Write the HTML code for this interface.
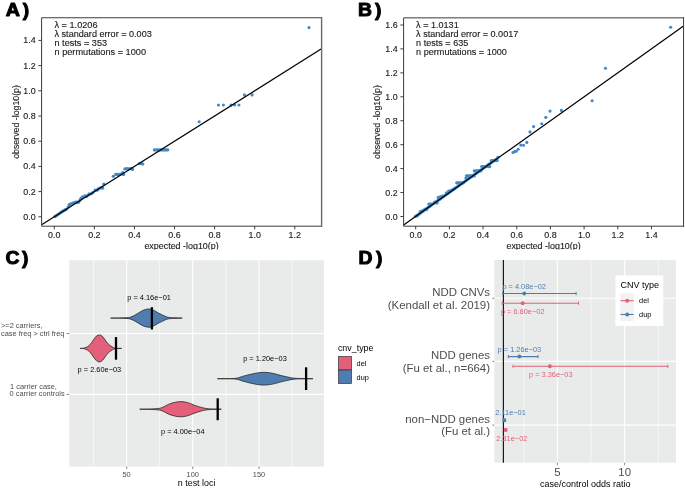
<!DOCTYPE html>
<html><head><meta charset="utf-8"><title>figure</title><style>
html,body{margin:0;padding:0;background:#fff;width:685px;height:488px;overflow:hidden}
svg{display:block;will-change:transform}
text{font-family:"Liberation Sans", sans-serif}
.m{stroke:#1a1a1a;stroke-width:0.12px}
</style></head><body>
<svg width="685" height="488" viewBox="0 0 685 488" font-family='"Liberation Sans", sans-serif'>
<rect width="685" height="488" fill="#fff"/>
<clipPath id="clip41"><rect x="41.6" y="17.75" width="279.9" height="208.45"/></clipPath>
<g clip-path="url(#clip41)" fill="#4088c8">
<circle cx="55.00" cy="216.50" r="1.67"/>
<circle cx="56.50" cy="215.60" r="1.67"/>
<circle cx="57.90" cy="214.60" r="1.67"/>
<circle cx="59.40" cy="213.60" r="1.67"/>
<circle cx="60.90" cy="212.40" r="1.67"/>
<circle cx="62.30" cy="211.40" r="1.67"/>
<circle cx="63.80" cy="210.60" r="1.67"/>
<circle cx="65.00" cy="209.90" r="1.67"/>
<circle cx="66.30" cy="209.30" r="1.67"/>
<circle cx="68.20" cy="207.10" r="1.67"/>
<circle cx="69.20" cy="204.70" r="1.67"/>
<circle cx="70.50" cy="204.20" r="1.67"/>
<circle cx="71.70" cy="203.70" r="1.67"/>
<circle cx="73.50" cy="203.00" r="1.67"/>
<circle cx="75.00" cy="202.50" r="1.67"/>
<circle cx="76.10" cy="202.10" r="1.67"/>
<circle cx="77.30" cy="202.20" r="1.67"/>
<circle cx="78.60" cy="202.20" r="1.67"/>
<circle cx="80.00" cy="200.10" r="1.67"/>
<circle cx="81.00" cy="198.50" r="1.67"/>
<circle cx="82.50" cy="197.00" r="1.67"/>
<circle cx="84.90" cy="195.90" r="1.67"/>
<circle cx="86.40" cy="196.40" r="1.67"/>
<circle cx="88.00" cy="195.10" r="1.67"/>
<circle cx="89.30" cy="194.00" r="1.67"/>
<circle cx="91.30" cy="193.80" r="1.67"/>
<circle cx="93.00" cy="192.40" r="1.67"/>
<circle cx="95.20" cy="190.10" r="1.67"/>
<circle cx="97.20" cy="190.20" r="1.67"/>
<circle cx="98.20" cy="188.90" r="1.67"/>
<circle cx="100.00" cy="188.10" r="1.67"/>
<circle cx="101.60" cy="187.50" r="1.67"/>
<circle cx="102.60" cy="188.00" r="1.67"/>
<circle cx="103.90" cy="184.20" r="1.67"/>
<circle cx="113.30" cy="176.30" r="1.67"/>
<circle cx="115.80" cy="174.40" r="1.67"/>
<circle cx="117.50" cy="174.40" r="1.67"/>
<circle cx="119.10" cy="174.40" r="1.67"/>
<circle cx="120.80" cy="174.10" r="1.67"/>
<circle cx="122.70" cy="172.70" r="1.67"/>
<circle cx="123.50" cy="174.40" r="1.67"/>
<circle cx="124.90" cy="168.90" r="1.67"/>
<circle cx="126.90" cy="168.60" r="1.67"/>
<circle cx="128.20" cy="168.90" r="1.67"/>
<circle cx="130.00" cy="168.60" r="1.67"/>
<circle cx="131.80" cy="168.60" r="1.67"/>
<circle cx="132.40" cy="169.40" r="1.67"/>
<circle cx="139.60" cy="163.60" r="1.67"/>
<circle cx="141.30" cy="163.30" r="1.67"/>
<circle cx="142.70" cy="164.10" r="1.67"/>
<circle cx="154.30" cy="149.90" r="1.55"/>
<circle cx="155.80" cy="149.90" r="1.55"/>
<circle cx="157.30" cy="149.90" r="1.55"/>
<circle cx="158.80" cy="149.90" r="1.55"/>
<circle cx="160.30" cy="149.90" r="1.55"/>
<circle cx="161.80" cy="149.90" r="1.55"/>
<circle cx="163.30" cy="149.90" r="1.55"/>
<circle cx="164.80" cy="149.90" r="1.55"/>
<circle cx="166.30" cy="149.90" r="1.55"/>
<circle cx="167.80" cy="149.90" r="1.55"/>
<circle cx="199.20" cy="121.80" r="1.55"/>
<circle cx="218.50" cy="105.00" r="1.55"/>
<circle cx="223.40" cy="105.00" r="1.55"/>
<circle cx="231.10" cy="105.00" r="1.55"/>
<circle cx="234.60" cy="105.00" r="1.55"/>
<circle cx="238.90" cy="105.00" r="1.55"/>
<circle cx="244.40" cy="94.90" r="1.55"/>
<circle cx="252.10" cy="94.90" r="1.55"/>
<circle cx="309.00" cy="27.60" r="1.55"/>
</g>
<g clip-path="url(#clip41)">
<line x1="41.60" y1="224.79" x2="321.50" y2="48.80" stroke="#000" stroke-width="1.25" />
</g>
<path d="M321.50,17.75 H41.60 V226.20 H321.50" fill="none" stroke="#3c3c3c" stroke-width="1" stroke-linecap="square"/>
<line x1="321.60" y1="17.25" x2="321.60" y2="226.70" stroke="#6a6a6a" stroke-width="1.4"/>
<line x1="54.30" y1="226.20" x2="54.30" y2="229.40" stroke="#3c3c3c" stroke-width="1.0" />
<text x="54.30" y="238.20" font-size="8.6" fill="#1a1a1a" text-anchor="middle" textLength="12.40" lengthAdjust="spacingAndGlyphs" class="m">0.0</text>
<line x1="94.38" y1="226.20" x2="94.38" y2="229.40" stroke="#3c3c3c" stroke-width="1.0" />
<text x="94.38" y="238.20" font-size="8.6" fill="#1a1a1a" text-anchor="middle" textLength="12.40" lengthAdjust="spacingAndGlyphs" class="m">0.2</text>
<line x1="134.46" y1="226.20" x2="134.46" y2="229.40" stroke="#3c3c3c" stroke-width="1.0" />
<text x="134.46" y="238.20" font-size="8.6" fill="#1a1a1a" text-anchor="middle" textLength="12.40" lengthAdjust="spacingAndGlyphs" class="m">0.4</text>
<line x1="174.54" y1="226.20" x2="174.54" y2="229.40" stroke="#3c3c3c" stroke-width="1.0" />
<text x="174.54" y="238.20" font-size="8.6" fill="#1a1a1a" text-anchor="middle" textLength="12.40" lengthAdjust="spacingAndGlyphs" class="m">0.6</text>
<line x1="214.62" y1="226.20" x2="214.62" y2="229.40" stroke="#3c3c3c" stroke-width="1.0" />
<text x="214.62" y="238.20" font-size="8.6" fill="#1a1a1a" text-anchor="middle" textLength="12.40" lengthAdjust="spacingAndGlyphs" class="m">0.8</text>
<line x1="254.70" y1="226.20" x2="254.70" y2="229.40" stroke="#3c3c3c" stroke-width="1.0" />
<text x="254.70" y="238.20" font-size="8.6" fill="#1a1a1a" text-anchor="middle" textLength="12.40" lengthAdjust="spacingAndGlyphs" class="m">1.0</text>
<line x1="294.78" y1="226.20" x2="294.78" y2="229.40" stroke="#3c3c3c" stroke-width="1.0" />
<text x="294.78" y="238.20" font-size="8.6" fill="#1a1a1a" text-anchor="middle" textLength="12.40" lengthAdjust="spacingAndGlyphs" class="m">1.2</text>
<line x1="38.40" y1="216.80" x2="41.60" y2="216.80" stroke="#3c3c3c" stroke-width="1.0" />
<text x="35.70" y="219.80" font-size="8.6" fill="#1a1a1a" text-anchor="end" textLength="12.40" lengthAdjust="spacingAndGlyphs" class="m">0.0</text>
<line x1="38.40" y1="191.60" x2="41.60" y2="191.60" stroke="#3c3c3c" stroke-width="1.0" />
<text x="35.70" y="194.60" font-size="8.6" fill="#1a1a1a" text-anchor="end" textLength="12.40" lengthAdjust="spacingAndGlyphs" class="m">0.2</text>
<line x1="38.40" y1="166.40" x2="41.60" y2="166.40" stroke="#3c3c3c" stroke-width="1.0" />
<text x="35.70" y="169.40" font-size="8.6" fill="#1a1a1a" text-anchor="end" textLength="12.40" lengthAdjust="spacingAndGlyphs" class="m">0.4</text>
<line x1="38.40" y1="141.20" x2="41.60" y2="141.20" stroke="#3c3c3c" stroke-width="1.0" />
<text x="35.70" y="144.20" font-size="8.6" fill="#1a1a1a" text-anchor="end" textLength="12.40" lengthAdjust="spacingAndGlyphs" class="m">0.6</text>
<line x1="38.40" y1="116.00" x2="41.60" y2="116.00" stroke="#3c3c3c" stroke-width="1.0" />
<text x="35.70" y="119.00" font-size="8.6" fill="#1a1a1a" text-anchor="end" textLength="12.40" lengthAdjust="spacingAndGlyphs" class="m">0.8</text>
<line x1="38.40" y1="90.80" x2="41.60" y2="90.80" stroke="#3c3c3c" stroke-width="1.0" />
<text x="35.70" y="93.80" font-size="8.6" fill="#1a1a1a" text-anchor="end" textLength="12.40" lengthAdjust="spacingAndGlyphs" class="m">1.0</text>
<line x1="38.40" y1="65.60" x2="41.60" y2="65.60" stroke="#3c3c3c" stroke-width="1.0" />
<text x="35.70" y="68.60" font-size="8.6" fill="#1a1a1a" text-anchor="end" textLength="12.40" lengthAdjust="spacingAndGlyphs" class="m">1.2</text>
<line x1="38.40" y1="40.40" x2="41.60" y2="40.40" stroke="#3c3c3c" stroke-width="1.0" />
<text x="35.70" y="43.40" font-size="8.6" fill="#1a1a1a" text-anchor="end" textLength="12.40" lengthAdjust="spacingAndGlyphs" class="m">1.4</text>
<text x="54.50" y="27.60" font-size="8.4" fill="#1a1a1a" textLength="43.00" lengthAdjust="spacingAndGlyphs" class="m">λ = 1.0206</text>
<text x="54.50" y="36.90" font-size="8.4" fill="#1a1a1a" textLength="97.30" lengthAdjust="spacingAndGlyphs" class="m">λ standard error = 0.003</text>
<text x="54.50" y="46.20" font-size="8.4" fill="#1a1a1a" textLength="52.60" lengthAdjust="spacingAndGlyphs" class="m">n tests = 353</text>
<text x="54.50" y="55.40" font-size="8.4" fill="#1a1a1a" textLength="91.50" lengthAdjust="spacingAndGlyphs" class="m">n permutations = 1000</text>
<text x="181.55" y="248.90" font-size="8.6" fill="#1a1a1a" text-anchor="middle" textLength="74.30" lengthAdjust="spacingAndGlyphs" class="m">expected -log10(p)</text>
<text class="m" x="0" y="0" font-size="8.4" fill="#1a1a1a" text-anchor="middle" textLength="73.8" lengthAdjust="spacingAndGlyphs" transform="translate(19.30,121.97) rotate(-90)">observed -log10(p)</text>
<clipPath id="clip403"><rect x="403.6" y="17.85" width="279.94999999999993" height="208.35"/></clipPath>
<g clip-path="url(#clip403)" fill="#4088c8">
<circle cx="415.50" cy="216.44" r="1.67"/>
<circle cx="417.10" cy="215.30" r="1.67"/>
<circle cx="418.70" cy="214.17" r="1.67"/>
<circle cx="420.30" cy="213.03" r="1.67"/>
<circle cx="421.90" cy="211.89" r="1.67"/>
<circle cx="423.50" cy="210.76" r="1.67"/>
<circle cx="425.10" cy="209.62" r="1.67"/>
<circle cx="426.70" cy="208.48" r="1.67"/>
<circle cx="428.30" cy="207.34" r="1.67"/>
<circle cx="429.90" cy="206.21" r="1.67"/>
<circle cx="431.50" cy="205.07" r="1.67"/>
<circle cx="433.10" cy="203.93" r="1.67"/>
<circle cx="434.70" cy="202.79" r="1.67"/>
<circle cx="436.30" cy="201.66" r="1.67"/>
<circle cx="437.90" cy="200.52" r="1.67"/>
<circle cx="439.50" cy="199.38" r="1.67"/>
<circle cx="441.10" cy="198.25" r="1.67"/>
<circle cx="442.70" cy="197.11" r="1.67"/>
<circle cx="444.30" cy="195.97" r="1.67"/>
<circle cx="445.90" cy="194.83" r="1.67"/>
<circle cx="447.50" cy="193.70" r="1.67"/>
<circle cx="449.10" cy="192.56" r="1.67"/>
<circle cx="450.70" cy="191.42" r="1.67"/>
<circle cx="452.30" cy="190.28" r="1.67"/>
<circle cx="453.90" cy="189.15" r="1.67"/>
<circle cx="455.50" cy="188.01" r="1.67"/>
<circle cx="457.10" cy="186.87" r="1.67"/>
<circle cx="458.70" cy="185.74" r="1.67"/>
<circle cx="460.30" cy="184.60" r="1.67"/>
<circle cx="461.90" cy="183.46" r="1.67"/>
<circle cx="463.50" cy="182.32" r="1.67"/>
<circle cx="465.10" cy="181.19" r="1.67"/>
<circle cx="466.70" cy="180.05" r="1.67"/>
<circle cx="468.30" cy="178.91" r="1.67"/>
<circle cx="469.90" cy="177.77" r="1.67"/>
<circle cx="471.50" cy="176.64" r="1.67"/>
<circle cx="473.10" cy="175.50" r="1.67"/>
<circle cx="474.70" cy="174.36" r="1.67"/>
<circle cx="476.30" cy="173.23" r="1.67"/>
<circle cx="477.90" cy="172.09" r="1.67"/>
<circle cx="479.50" cy="170.95" r="1.67"/>
<circle cx="481.10" cy="169.81" r="1.67"/>
<circle cx="482.70" cy="168.68" r="1.67"/>
<circle cx="484.30" cy="167.54" r="1.67"/>
<circle cx="485.90" cy="166.40" r="1.67"/>
<circle cx="487.50" cy="165.26" r="1.67"/>
<circle cx="489.10" cy="164.13" r="1.67"/>
<circle cx="490.70" cy="162.99" r="1.67"/>
<circle cx="492.30" cy="161.85" r="1.67"/>
<circle cx="493.90" cy="160.71" r="1.67"/>
<circle cx="495.50" cy="159.58" r="1.67"/>
<circle cx="417.40" cy="215.60" r="1.67"/>
<circle cx="420.40" cy="211.60" r="1.67"/>
<circle cx="422.30" cy="211.00" r="1.67"/>
<circle cx="424.80" cy="209.50" r="1.67"/>
<circle cx="426.60" cy="209.50" r="1.67"/>
<circle cx="429.00" cy="204.20" r="1.67"/>
<circle cx="430.30" cy="204.20" r="1.67"/>
<circle cx="431.60" cy="204.20" r="1.67"/>
<circle cx="434.60" cy="202.10" r="1.67"/>
<circle cx="437.00" cy="203.00" r="1.67"/>
<circle cx="438.30" cy="197.50" r="1.67"/>
<circle cx="440.30" cy="196.90" r="1.67"/>
<circle cx="442.30" cy="196.20" r="1.67"/>
<circle cx="446.50" cy="192.90" r="1.67"/>
<circle cx="448.70" cy="191.10" r="1.67"/>
<circle cx="451.00" cy="190.40" r="1.67"/>
<circle cx="453.40" cy="189.20" r="1.67"/>
<circle cx="456.80" cy="182.80" r="1.67"/>
<circle cx="458.10" cy="182.80" r="1.67"/>
<circle cx="459.40" cy="182.80" r="1.67"/>
<circle cx="460.70" cy="182.80" r="1.67"/>
<circle cx="462.00" cy="182.80" r="1.67"/>
<circle cx="463.30" cy="182.80" r="1.67"/>
<circle cx="466.00" cy="178.10" r="1.67"/>
<circle cx="466.50" cy="175.80" r="1.67"/>
<circle cx="467.80" cy="175.80" r="1.67"/>
<circle cx="469.10" cy="175.80" r="1.67"/>
<circle cx="470.40" cy="175.80" r="1.67"/>
<circle cx="471.70" cy="175.80" r="1.67"/>
<circle cx="473.00" cy="175.80" r="1.67"/>
<circle cx="474.30" cy="175.80" r="1.67"/>
<circle cx="474.40" cy="170.80" r="1.67"/>
<circle cx="475.70" cy="170.80" r="1.67"/>
<circle cx="477.00" cy="170.80" r="1.67"/>
<circle cx="478.30" cy="170.80" r="1.67"/>
<circle cx="479.60" cy="170.80" r="1.67"/>
<circle cx="480.90" cy="170.80" r="1.67"/>
<circle cx="481.80" cy="166.60" r="1.67"/>
<circle cx="483.10" cy="166.60" r="1.67"/>
<circle cx="484.40" cy="166.60" r="1.67"/>
<circle cx="485.70" cy="166.60" r="1.67"/>
<circle cx="487.00" cy="166.60" r="1.67"/>
<circle cx="488.30" cy="166.60" r="1.67"/>
<circle cx="489.60" cy="166.60" r="1.67"/>
<circle cx="491.40" cy="160.60" r="1.67"/>
<circle cx="492.70" cy="160.60" r="1.67"/>
<circle cx="494.00" cy="160.60" r="1.67"/>
<circle cx="495.30" cy="160.60" r="1.67"/>
<circle cx="496.60" cy="160.60" r="1.67"/>
<circle cx="497.90" cy="157.40" r="1.67"/>
<circle cx="497.00" cy="160.20" r="1.67"/>
<circle cx="513.00" cy="152.50" r="1.55"/>
<circle cx="514.70" cy="151.60" r="1.55"/>
<circle cx="516.10" cy="151.20" r="1.55"/>
<circle cx="518.20" cy="149.20" r="1.55"/>
<circle cx="520.80" cy="145.10" r="1.55"/>
<circle cx="523.50" cy="145.30" r="1.55"/>
<circle cx="526.80" cy="142.40" r="1.55"/>
<circle cx="530.00" cy="131.90" r="1.55"/>
<circle cx="533.60" cy="126.60" r="1.55"/>
<circle cx="541.70" cy="123.80" r="1.55"/>
<circle cx="545.80" cy="117.40" r="1.55"/>
<circle cx="550.00" cy="111.10" r="1.55"/>
<circle cx="561.40" cy="110.40" r="1.55"/>
<circle cx="592.10" cy="100.70" r="1.55"/>
<circle cx="605.50" cy="68.20" r="1.55"/>
<circle cx="670.60" cy="27.30" r="1.55"/>
</g>
<g clip-path="url(#clip403)">
<line x1="403.60" y1="225.10" x2="683.55" y2="26.11" stroke="#000" stroke-width="1.25" />
</g>
<path d="M683.55,17.85 H403.60 V226.20 H683.55" fill="none" stroke="#3c3c3c" stroke-width="1" stroke-linecap="square"/>
<line x1="683.55" y1="17.35" x2="683.55" y2="226.70" stroke="#3c3c3c" stroke-width="1.0"/>
<line x1="415.70" y1="226.20" x2="415.70" y2="229.40" stroke="#3c3c3c" stroke-width="1.0" />
<text x="415.70" y="238.20" font-size="8.6" fill="#1a1a1a" text-anchor="middle" textLength="12.40" lengthAdjust="spacingAndGlyphs" class="m">0.0</text>
<line x1="449.38" y1="226.20" x2="449.38" y2="229.40" stroke="#3c3c3c" stroke-width="1.0" />
<text x="449.38" y="238.20" font-size="8.6" fill="#1a1a1a" text-anchor="middle" textLength="12.40" lengthAdjust="spacingAndGlyphs" class="m">0.2</text>
<line x1="483.06" y1="226.20" x2="483.06" y2="229.40" stroke="#3c3c3c" stroke-width="1.0" />
<text x="483.06" y="238.20" font-size="8.6" fill="#1a1a1a" text-anchor="middle" textLength="12.40" lengthAdjust="spacingAndGlyphs" class="m">0.4</text>
<line x1="516.74" y1="226.20" x2="516.74" y2="229.40" stroke="#3c3c3c" stroke-width="1.0" />
<text x="516.74" y="238.20" font-size="8.6" fill="#1a1a1a" text-anchor="middle" textLength="12.40" lengthAdjust="spacingAndGlyphs" class="m">0.6</text>
<line x1="550.42" y1="226.20" x2="550.42" y2="229.40" stroke="#3c3c3c" stroke-width="1.0" />
<text x="550.42" y="238.20" font-size="8.6" fill="#1a1a1a" text-anchor="middle" textLength="12.40" lengthAdjust="spacingAndGlyphs" class="m">0.8</text>
<line x1="584.10" y1="226.20" x2="584.10" y2="229.40" stroke="#3c3c3c" stroke-width="1.0" />
<text x="584.10" y="238.20" font-size="8.6" fill="#1a1a1a" text-anchor="middle" textLength="12.40" lengthAdjust="spacingAndGlyphs" class="m">1.0</text>
<line x1="617.78" y1="226.20" x2="617.78" y2="229.40" stroke="#3c3c3c" stroke-width="1.0" />
<text x="617.78" y="238.20" font-size="8.6" fill="#1a1a1a" text-anchor="middle" textLength="12.40" lengthAdjust="spacingAndGlyphs" class="m">1.2</text>
<line x1="651.46" y1="226.20" x2="651.46" y2="229.40" stroke="#3c3c3c" stroke-width="1.0" />
<text x="651.46" y="238.20" font-size="8.6" fill="#1a1a1a" text-anchor="middle" textLength="12.40" lengthAdjust="spacingAndGlyphs" class="m">1.4</text>
<line x1="400.40" y1="216.50" x2="403.60" y2="216.50" stroke="#3c3c3c" stroke-width="1.0" />
<text x="397.70" y="219.50" font-size="8.6" fill="#1a1a1a" text-anchor="end" textLength="12.40" lengthAdjust="spacingAndGlyphs" class="m">0.0</text>
<line x1="400.40" y1="192.56" x2="403.60" y2="192.56" stroke="#3c3c3c" stroke-width="1.0" />
<text x="397.70" y="195.56" font-size="8.6" fill="#1a1a1a" text-anchor="end" textLength="12.40" lengthAdjust="spacingAndGlyphs" class="m">0.2</text>
<line x1="400.40" y1="168.62" x2="403.60" y2="168.62" stroke="#3c3c3c" stroke-width="1.0" />
<text x="397.70" y="171.62" font-size="8.6" fill="#1a1a1a" text-anchor="end" textLength="12.40" lengthAdjust="spacingAndGlyphs" class="m">0.4</text>
<line x1="400.40" y1="144.68" x2="403.60" y2="144.68" stroke="#3c3c3c" stroke-width="1.0" />
<text x="397.70" y="147.68" font-size="8.6" fill="#1a1a1a" text-anchor="end" textLength="12.40" lengthAdjust="spacingAndGlyphs" class="m">0.6</text>
<line x1="400.40" y1="120.74" x2="403.60" y2="120.74" stroke="#3c3c3c" stroke-width="1.0" />
<text x="397.70" y="123.74" font-size="8.6" fill="#1a1a1a" text-anchor="end" textLength="12.40" lengthAdjust="spacingAndGlyphs" class="m">0.8</text>
<line x1="400.40" y1="96.80" x2="403.60" y2="96.80" stroke="#3c3c3c" stroke-width="1.0" />
<text x="397.70" y="99.80" font-size="8.6" fill="#1a1a1a" text-anchor="end" textLength="12.40" lengthAdjust="spacingAndGlyphs" class="m">1.0</text>
<line x1="400.40" y1="72.86" x2="403.60" y2="72.86" stroke="#3c3c3c" stroke-width="1.0" />
<text x="397.70" y="75.86" font-size="8.6" fill="#1a1a1a" text-anchor="end" textLength="12.40" lengthAdjust="spacingAndGlyphs" class="m">1.2</text>
<line x1="400.40" y1="48.92" x2="403.60" y2="48.92" stroke="#3c3c3c" stroke-width="1.0" />
<text x="397.70" y="51.92" font-size="8.6" fill="#1a1a1a" text-anchor="end" textLength="12.40" lengthAdjust="spacingAndGlyphs" class="m">1.4</text>
<line x1="400.40" y1="24.98" x2="403.60" y2="24.98" stroke="#3c3c3c" stroke-width="1.0" />
<text x="397.70" y="27.98" font-size="8.6" fill="#1a1a1a" text-anchor="end" textLength="12.40" lengthAdjust="spacingAndGlyphs" class="m">1.6</text>
<text x="416.10" y="27.60" font-size="8.4" fill="#1a1a1a" textLength="42.60" lengthAdjust="spacingAndGlyphs" class="m">λ = 1.0131</text>
<text x="416.10" y="36.90" font-size="8.4" fill="#1a1a1a" textLength="102.20" lengthAdjust="spacingAndGlyphs" class="m">λ standard error = 0.0017</text>
<text x="416.10" y="46.20" font-size="8.4" fill="#1a1a1a" textLength="52.20" lengthAdjust="spacingAndGlyphs" class="m">n tests = 635</text>
<text x="416.10" y="55.40" font-size="8.4" fill="#1a1a1a" textLength="90.80" lengthAdjust="spacingAndGlyphs" class="m">n permutations = 1000</text>
<text x="543.58" y="248.90" font-size="8.6" fill="#1a1a1a" text-anchor="middle" textLength="74.30" lengthAdjust="spacingAndGlyphs" class="m">expected -log10(p)</text>
<text class="m" x="0" y="0" font-size="8.4" fill="#1a1a1a" text-anchor="middle" textLength="73.8" lengthAdjust="spacingAndGlyphs" transform="translate(380.20,122.02) rotate(-90)">observed -log10(p)</text>
<rect x="0" y="249.6" width="685" height="238.4" fill="#fff"/>
<text x="5.80" y="15.70" font-size="18.8" fill="#000" textLength="14.20" lengthAdjust="spacingAndGlyphs" font-weight="bold" stroke="#000" stroke-width="1.0" stroke-linejoin="round">A</text>
<text x="22.80" y="15.70" font-size="18.8" fill="#000" textLength="6.40" lengthAdjust="spacingAndGlyphs" font-weight="bold" stroke="#000" stroke-width="1.0" stroke-linejoin="round">)</text>
<text x="358.10" y="15.70" font-size="18.8" fill="#000" textLength="14.00" lengthAdjust="spacingAndGlyphs" font-weight="bold" stroke="#000" stroke-width="1.0" stroke-linejoin="round">B</text>
<text x="374.90" y="15.70" font-size="18.8" fill="#000" textLength="6.40" lengthAdjust="spacingAndGlyphs" font-weight="bold" stroke="#000" stroke-width="1.0" stroke-linejoin="round">)</text>
<text x="5.60" y="263.50" font-size="18.8" fill="#000" textLength="14.00" lengthAdjust="spacingAndGlyphs" font-weight="bold" stroke="#000" stroke-width="1.0" stroke-linejoin="round">C</text>
<text x="22.00" y="263.50" font-size="18.8" fill="#000" textLength="6.40" lengthAdjust="spacingAndGlyphs" font-weight="bold" stroke="#000" stroke-width="1.0" stroke-linejoin="round">)</text>
<text x="358.50" y="263.50" font-size="18.8" fill="#000" textLength="14.00" lengthAdjust="spacingAndGlyphs" font-weight="bold" stroke="#000" stroke-width="1.0" stroke-linejoin="round">D</text>
<text x="375.90" y="263.50" font-size="18.8" fill="#000" textLength="6.40" lengthAdjust="spacingAndGlyphs" font-weight="bold" stroke="#000" stroke-width="1.0" stroke-linejoin="round">)</text>
<rect x="69.2" y="260.3" width="254.80" height="206.30" fill="#E9EBEA"/>
<line x1="93.49" y1="260.30" x2="93.49" y2="466.60" stroke="#fff" stroke-width="0.55" />
<line x1="159.67" y1="260.30" x2="159.67" y2="466.60" stroke="#fff" stroke-width="0.55" />
<line x1="225.85" y1="260.30" x2="225.85" y2="466.60" stroke="#fff" stroke-width="0.55" />
<line x1="292.03" y1="260.30" x2="292.03" y2="466.60" stroke="#fff" stroke-width="0.55" />
<line x1="126.58" y1="260.30" x2="126.58" y2="466.60" stroke="#fff" stroke-width="1.1" />
<line x1="192.76" y1="260.30" x2="192.76" y2="466.60" stroke="#fff" stroke-width="1.1" />
<line x1="258.94" y1="260.30" x2="258.94" y2="466.60" stroke="#fff" stroke-width="1.1" />
<line x1="69.20" y1="333.50" x2="324.00" y2="333.50" stroke="#fff" stroke-width="1.1" />
<line x1="69.20" y1="394.40" x2="324.00" y2="394.40" stroke="#fff" stroke-width="1.1" />
<path d="M110.60,318.10 C113.00,318.05 121.63,317.98 125.00,317.80 C128.37,317.62 128.97,317.55 130.80,317.00 C132.63,316.45 134.53,315.28 136.00,314.50 C137.47,313.72 138.40,313.00 139.60,312.30 C140.80,311.60 141.98,310.82 143.20,310.30 C144.42,309.78 145.73,309.42 146.90,309.20 C148.07,308.98 148.98,308.78 150.20,309.00 C151.42,309.22 152.93,309.88 154.20,310.50 C155.47,311.12 156.58,312.03 157.80,312.70 C159.02,313.37 160.28,313.90 161.50,314.50 C162.72,315.10 163.88,315.82 165.10,316.30 C166.32,316.78 167.15,317.14 168.80,317.40 C170.45,317.66 172.77,317.73 175.00,317.85 C177.23,317.97 181.00,318.06 182.20,318.10 L182.20,318.10 C181.00,318.14 177.23,318.23 175.00,318.35 C172.77,318.47 170.45,318.54 168.80,318.80 C167.15,319.06 166.32,319.42 165.10,319.90 C163.88,320.38 162.72,321.10 161.50,321.70 C160.28,322.30 159.02,322.83 157.80,323.50 C156.58,324.17 155.47,325.08 154.20,325.70 C152.93,326.32 151.42,326.98 150.20,327.20 C148.98,327.42 148.07,327.22 146.90,327.00 C145.73,326.78 144.42,326.42 143.20,325.90 C141.98,325.38 140.80,324.60 139.60,323.90 C138.40,323.20 137.47,322.48 136.00,321.70 C134.53,320.92 132.63,319.75 130.80,319.20 C128.97,318.65 128.37,318.58 125.00,318.40 C121.63,318.22 113.00,318.15 110.60,318.10 Z" fill="#4F7DAF" stroke="#222" stroke-width="0.75" stroke-linejoin="round"/>
<path d="M80.00,348.40 C80.55,348.37 82.27,348.38 83.30,348.20 C84.33,348.02 85.23,347.75 86.20,347.30 C87.17,346.85 88.12,346.40 89.10,345.50 C90.08,344.60 91.12,343.23 92.10,341.90 C93.08,340.57 94.03,338.60 95.00,337.50 C95.97,336.40 97.17,335.73 97.90,335.30 C98.63,334.87 98.80,334.85 99.40,334.90 C100.00,334.95 100.78,335.12 101.50,335.60 C102.22,336.08 102.83,336.70 103.70,337.80 C104.57,338.90 105.72,340.98 106.70,342.20 C107.68,343.42 108.63,344.30 109.60,345.10 C110.57,345.90 111.53,346.50 112.50,347.00 C113.47,347.50 113.88,347.87 115.40,348.10 C116.92,348.33 120.57,348.35 121.60,348.40 L121.60,348.40 C120.57,348.45 116.92,348.47 115.40,348.70 C113.88,348.93 113.47,349.30 112.50,349.80 C111.53,350.30 110.57,350.90 109.60,351.70 C108.63,352.50 107.68,353.38 106.70,354.60 C105.72,355.82 104.57,357.90 103.70,359.00 C102.83,360.10 102.22,360.72 101.50,361.20 C100.78,361.68 100.00,361.85 99.40,361.90 C98.80,361.95 98.63,361.93 97.90,361.50 C97.17,361.07 95.97,360.40 95.00,359.30 C94.03,358.20 93.08,356.23 92.10,354.90 C91.12,353.57 90.08,352.20 89.10,351.30 C88.12,350.40 87.17,349.95 86.20,349.50 C85.23,349.05 84.33,348.78 83.30,348.60 C82.27,348.42 80.55,348.43 80.00,348.40 Z" fill="#E45F79" stroke="#222" stroke-width="0.75" stroke-linejoin="round"/>
<path d="M217.30,378.70 C220.22,378.65 230.62,378.78 234.80,378.40 C238.98,378.02 239.87,377.07 242.40,376.40 C244.93,375.73 247.48,374.98 250.00,374.40 C252.52,373.82 255.10,373.25 257.50,372.90 C259.90,372.55 261.87,372.23 264.40,372.30 C266.93,372.37 270.05,372.80 272.70,373.30 C275.35,373.80 277.77,374.67 280.30,375.30 C282.83,375.93 285.62,376.62 287.90,377.10 C290.18,377.58 291.47,377.96 294.00,378.20 C296.53,378.44 299.93,378.47 303.10,378.55 C306.27,378.63 311.35,378.68 313.00,378.70 L313.00,378.70 C311.35,378.72 306.27,378.77 303.10,378.85 C299.93,378.93 296.53,378.96 294.00,379.20 C291.47,379.44 290.18,379.82 287.90,380.30 C285.62,380.78 282.83,381.47 280.30,382.10 C277.77,382.73 275.35,383.60 272.70,384.10 C270.05,384.60 266.93,385.03 264.40,385.10 C261.87,385.17 259.90,384.85 257.50,384.50 C255.10,384.15 252.52,383.58 250.00,383.00 C247.48,382.42 244.93,381.67 242.40,381.00 C239.87,380.33 238.98,379.38 234.80,379.00 C230.62,378.62 220.22,378.75 217.30,378.70 Z" fill="#4F7DAF" stroke="#222" stroke-width="0.75" stroke-linejoin="round"/>
<path d="M139.70,409.20 C142.37,409.12 151.93,408.98 155.70,408.70 C159.47,408.42 160.12,408.25 162.30,407.50 C164.48,406.75 166.62,405.08 168.80,404.20 C170.98,403.32 173.20,402.63 175.40,402.20 C177.60,401.77 179.80,401.48 182.00,401.60 C184.20,401.72 186.42,402.25 188.60,402.90 C190.78,403.55 192.92,404.73 195.10,405.50 C197.28,406.27 199.50,406.97 201.70,407.50 C203.90,408.03 205.02,408.42 208.30,408.70 C211.58,408.98 219.22,409.12 221.40,409.20 L221.40,409.20 C219.22,409.28 211.58,409.42 208.30,409.70 C205.02,409.98 203.90,410.37 201.70,410.90 C199.50,411.43 197.28,412.13 195.10,412.90 C192.92,413.67 190.78,414.85 188.60,415.50 C186.42,416.15 184.20,416.68 182.00,416.80 C179.80,416.92 177.60,416.63 175.40,416.20 C173.20,415.77 170.98,415.08 168.80,414.20 C166.62,413.32 164.48,411.65 162.30,410.90 C160.12,410.15 159.47,409.98 155.70,409.70 C151.93,409.42 142.37,409.28 139.70,409.20 Z" fill="#E45F79" stroke="#222" stroke-width="0.75" stroke-linejoin="round"/>
<line x1="151.90" y1="307.20" x2="151.90" y2="329.50" stroke="#000" stroke-width="2.3" />
<line x1="116.00" y1="337.10" x2="116.00" y2="359.70" stroke="#000" stroke-width="2.3" />
<line x1="306.10" y1="367.30" x2="306.10" y2="390.00" stroke="#000" stroke-width="2.3" />
<line x1="217.70" y1="398.30" x2="217.70" y2="420.20" stroke="#000" stroke-width="2.3" />
<text x="149.10" y="300.20" font-size="7.4" fill="#000" text-anchor="middle">p = 4.16e−01</text>
<text x="99.40" y="372.40" font-size="7.4" fill="#000" text-anchor="middle">p = 2.60e−03</text>
<text x="265.00" y="360.90" font-size="7.4" fill="#000" text-anchor="middle">p = 1.20e−03</text>
<text x="182.80" y="433.50" font-size="7.4" fill="#000" text-anchor="middle">p = 4.00e−04</text>
<line x1="66.60" y1="333.50" x2="69.20" y2="333.50" stroke="#333" stroke-width="0.6" />
<text x="1.00" y="327.90" font-size="7.4" fill="#4D4D4D">&gt;=2 carriers,</text>
<text x="1.00" y="335.60" font-size="7.4" fill="#4D4D4D">case freq &gt; ctrl freq</text>
<line x1="66.60" y1="394.40" x2="69.20" y2="394.40" stroke="#333" stroke-width="0.6" />
<text x="10.10" y="388.50" font-size="7.4" fill="#4D4D4D">1 carrier case,</text>
<text x="9.60" y="396.00" font-size="7.4" fill="#4D4D4D">0 carrier controls</text>
<line x1="126.58" y1="466.60" x2="126.58" y2="469.00" stroke="#333" stroke-width="0.6" />
<text x="126.58" y="476.70" font-size="7.4" fill="#4D4D4D" text-anchor="middle">50</text>
<line x1="192.76" y1="466.60" x2="192.76" y2="469.00" stroke="#333" stroke-width="0.6" />
<text x="192.76" y="476.70" font-size="7.4" fill="#4D4D4D" text-anchor="middle">100</text>
<line x1="258.94" y1="466.60" x2="258.94" y2="469.00" stroke="#333" stroke-width="0.6" />
<text x="258.94" y="476.70" font-size="7.4" fill="#4D4D4D" text-anchor="middle">150</text>
<text x="196.60" y="486.30" font-size="9.0" fill="#000" text-anchor="middle" textLength="37.60" lengthAdjust="spacingAndGlyphs">n test loci</text>
<text x="337.90" y="350.90" font-size="9.0" fill="#000" textLength="35.60" lengthAdjust="spacingAndGlyphs">cnv_type</text>
<rect x="338.5" y="356.5" width="13" height="13.5" fill="#E45F79" stroke="#333" stroke-width="0.7"/>
<rect x="338.5" y="370" width="13" height="13.5" fill="#4F7DAF" stroke="#333" stroke-width="0.7"/>
<text x="356.60" y="365.90" font-size="7.3" fill="#000">del</text>
<text x="356.60" y="380.00" font-size="7.3" fill="#000">dup</text>
<rect x="494.3" y="260.1" width="181.70" height="202.60" fill="#E9EBEA"/>
<line x1="523.77" y1="260.10" x2="523.77" y2="462.70" stroke="#fff" stroke-width="0.55" />
<line x1="591.02" y1="260.10" x2="591.02" y2="462.70" stroke="#fff" stroke-width="0.55" />
<line x1="658.27" y1="260.10" x2="658.27" y2="462.70" stroke="#fff" stroke-width="0.55" />
<line x1="557.40" y1="260.10" x2="557.40" y2="462.70" stroke="#fff" stroke-width="1.1" />
<line x1="624.65" y1="260.10" x2="624.65" y2="462.70" stroke="#fff" stroke-width="1.1" />
<line x1="494.30" y1="298.30" x2="676.00" y2="298.30" stroke="#fff" stroke-width="1.1" />
<line x1="494.30" y1="361.40" x2="676.00" y2="361.40" stroke="#fff" stroke-width="1.1" />
<line x1="494.30" y1="425.10" x2="676.00" y2="425.10" stroke="#fff" stroke-width="1.1" />
<line x1="503.40" y1="260.10" x2="503.40" y2="462.70" stroke="#1a1a1a" stroke-width="1.2" />
<clipPath id="clipD"><rect x="494.3" y="260.1" width="181.70" height="202.60"/></clipPath>
<g clip-path="url(#clipD)">
<line x1="502.80" y1="293.50" x2="576.10" y2="293.50" stroke="#4F7DAF" stroke-width="1.1" />
<line x1="502.80" y1="291.90" x2="502.80" y2="295.10" stroke="#4F7DAF" stroke-width="1.0" />
<line x1="576.10" y1="291.90" x2="576.10" y2="295.10" stroke="#4F7DAF" stroke-width="1.0" />
<circle cx="524.20" cy="293.50" r="2.0" fill="#4F7DAF"/>
<text x="524.20" y="288.60" font-size="7.4" fill="#4F7DAF" text-anchor="middle">p = 4.08e−02</text>
<line x1="502.20" y1="303.20" x2="578.60" y2="303.20" stroke="#E45F79" stroke-width="1.1" />
<line x1="502.20" y1="301.60" x2="502.20" y2="304.80" stroke="#E45F79" stroke-width="1.0" />
<line x1="578.60" y1="301.60" x2="578.60" y2="304.80" stroke="#E45F79" stroke-width="1.0" />
<circle cx="522.70" cy="303.20" r="2.0" fill="#E45F79"/>
<text x="522.70" y="314.10" font-size="7.4" fill="#E45F79" text-anchor="middle">p = 6.80e−02</text>
<line x1="508.30" y1="356.60" x2="538.00" y2="356.60" stroke="#4F7DAF" stroke-width="1.1" />
<line x1="508.30" y1="355.00" x2="508.30" y2="358.20" stroke="#4F7DAF" stroke-width="1.0" />
<line x1="538.00" y1="355.00" x2="538.00" y2="358.20" stroke="#4F7DAF" stroke-width="1.0" />
<circle cx="519.40" cy="356.60" r="2.0" fill="#4F7DAF"/>
<text x="519.40" y="351.70" font-size="7.4" fill="#4F7DAF" text-anchor="middle">p = 1.26e−03</text>
<line x1="513.00" y1="366.30" x2="667.80" y2="366.30" stroke="#E45F79" stroke-width="1.1" />
<line x1="513.00" y1="364.70" x2="513.00" y2="367.90" stroke="#E45F79" stroke-width="1.0" />
<line x1="667.80" y1="364.70" x2="667.80" y2="367.90" stroke="#E45F79" stroke-width="1.0" />
<circle cx="549.90" cy="366.30" r="2.0" fill="#E45F79"/>
<text x="550.80" y="377.20" font-size="7.4" fill="#E45F79" text-anchor="middle">p = 3.36e−03</text>
<line x1="503.60" y1="420.30" x2="505.00" y2="420.30" stroke="#4F7DAF" stroke-width="1.1" />
<line x1="503.60" y1="418.70" x2="503.60" y2="421.90" stroke="#4F7DAF" stroke-width="1.0" />
<line x1="505.00" y1="418.70" x2="505.00" y2="421.90" stroke="#4F7DAF" stroke-width="1.0" />
<circle cx="504.30" cy="420.30" r="2.0" fill="#4F7DAF"/>
<text x="504.30" y="415.30" font-size="7.4" fill="#4F7DAF" text-anchor="middle">p = 2.11e−01</text>
<line x1="504.60" y1="429.90" x2="506.60" y2="429.90" stroke="#E45F79" stroke-width="1.1" />
<line x1="504.60" y1="428.30" x2="504.60" y2="431.50" stroke="#E45F79" stroke-width="1.0" />
<line x1="506.60" y1="428.30" x2="506.60" y2="431.50" stroke="#E45F79" stroke-width="1.0" />
<circle cx="505.60" cy="429.90" r="2.0" fill="#E45F79"/>
<text x="505.60" y="440.60" font-size="7.4" fill="#E45F79" text-anchor="middle">p = 2.31e−02</text>
</g>
<line x1="492.30" y1="298.30" x2="494.30" y2="298.30" stroke="#333" stroke-width="0.6" />
<text x="490.00" y="295.90" font-size="11.43" fill="#4D4D4D" text-anchor="end">NDD CNVs</text>
<text x="490.00" y="308.50" font-size="11.43" fill="#4D4D4D" text-anchor="end">(Kendall et al. 2019)</text>
<line x1="492.30" y1="361.40" x2="494.30" y2="361.40" stroke="#333" stroke-width="0.6" />
<text x="490.00" y="359.00" font-size="11.43" fill="#4D4D4D" text-anchor="end">NDD genes</text>
<text x="490.00" y="371.60" font-size="11.43" fill="#4D4D4D" text-anchor="end">(Fu et al., n=664)</text>
<line x1="492.30" y1="425.10" x2="494.30" y2="425.10" stroke="#333" stroke-width="0.6" />
<text x="490.00" y="422.70" font-size="11.43" fill="#4D4D4D" text-anchor="end">non−NDD genes</text>
<text x="490.00" y="435.30" font-size="11.43" fill="#4D4D4D" text-anchor="end">(Fu et al.)</text>
<line x1="557.40" y1="462.70" x2="557.40" y2="465.10" stroke="#333" stroke-width="0.6" />
<text x="557.40" y="475.60" font-size="11.4" fill="#4D4D4D" text-anchor="middle">5</text>
<line x1="624.65" y1="462.70" x2="624.65" y2="465.10" stroke="#333" stroke-width="0.6" />
<text x="624.65" y="475.60" font-size="11.4" fill="#4D4D4D" text-anchor="middle">10</text>
<text x="585.20" y="486.70" font-size="9.0" fill="#000" text-anchor="middle" textLength="90.50" lengthAdjust="spacingAndGlyphs">case/control odds ratio</text>
<rect x="615.4" y="275.4" width="47.9" height="50.6" fill="#fff"/>
<text x="620.40" y="288.10" font-size="9.0" fill="#000" textLength="38.60" lengthAdjust="spacingAndGlyphs">CNV type</text>
<rect x="620.2" y="293.2" width="13.6" height="28" fill="#F2F2F2"/>
<line x1="620.60" y1="300.70" x2="633.60" y2="300.70" stroke="#E45F79" stroke-width="1.1" />
<circle cx="627.2" cy="300.7" r="2.0" fill="#E45F79"/>
<text x="639.10" y="303.30" font-size="7.3" fill="#000">del</text>
<line x1="620.60" y1="314.50" x2="633.60" y2="314.50" stroke="#4F7DAF" stroke-width="1.1" />
<circle cx="627.2" cy="314.5" r="2.0" fill="#4F7DAF"/>
<text x="639.10" y="317.10" font-size="7.3" fill="#000">dup</text>
</svg>
</body></html>
